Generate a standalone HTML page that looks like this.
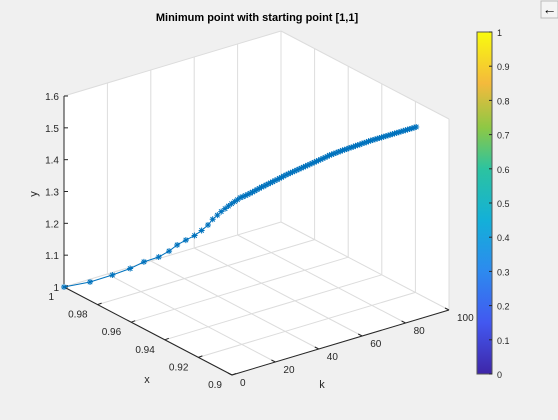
<!DOCTYPE html>
<html><head><meta charset="utf-8"><style>
body{margin:0;width:558px;height:420px;background:#f0f0f0;overflow:hidden;font-family:"Liberation Sans",sans-serif}
svg{position:absolute;left:0;top:0}
</style></head><body>
<svg id="chart" width="558" height="420">
<defs><linearGradient id="parula" x1="0" y1="1" x2="0" y2="0">
<stop offset="0" stop-color="#3e26a8"/><stop offset="0.15" stop-color="#4258f0"/><stop offset="0.3" stop-color="#2d8aef"/><stop offset="0.45" stop-color="#13b0d8"/><stop offset="0.6" stop-color="#2cc3a0"/><stop offset="0.72" stop-color="#8dc845"/><stop offset="0.85" stop-color="#f4ba3c"/><stop offset="1" stop-color="#f9fb0e"/>
</linearGradient></defs>
<g id="axes"></g>
<g id="series"></g>
<text x="257" y="21" text-anchor="middle" font-size="11" font-weight="bold" fill="#000">Minimum point with starting point [1,1]</text>
<g>
<rect x="477" y="32" width="15" height="342" fill="url(#parula)" stroke="#555" stroke-width="1"/>
<g id="cbticks"></g>
</g>
<g><rect x="541" y="1" width="17" height="17" fill="#f4f4f4" stroke="#bbb"/><text x="549.5" y="14" text-anchor="middle" font-size="14" fill="#000">←</text></g>
</svg>
<script>
const kVals=[];for(let i=0;i<=100;i++)kVals.push(i);
const xVals=[1,.9858,.9738,.9645,.9576,.9501,.9452,.9417,.9378,.9339,.9310,.9285,.927,.9255,.9245,.9235,.9228,.9222,.9217,.9213,.921,
.9207,.9205,.9203,.9202,.9201,.920,.920,.9199,.9199,.9198,.9198,.9198,.9197,.9197,.9197,.9196,.9196,.9196,.9196,.9195,
.9195,.9195,.9195,.9195,.9195,.9195,.9195,.9195,.9195,.9195,.9195,.9195,.9195,.9195,.9195,.9195,.9195,.9195,.9195,.9195,
.9195,.9195,.9195,.9195,.9195,.9195,.9195,.9195,.9195,.9195,.9195,.9195,.9195,.9195,.9195,.9195,.9195,.9195,.9195,.9195,
.9195,.9195,.9195,.9195,.9195,.9195,.9195,.9195,.9195,.9195,.9195,.9195,.9195,.9195,.9195,.9195,.9195,.9195,.9195,.9195];
const yVals=[1,1.053,1.106,1.150,1.188,1.222,1.252,1.279,1.303,1.326,1.348,1.370,1.390,1.405,1.417,1.427,1.435,1.442,1.448,1.453,1.458,
1.460,1.462,1.464,1.466,1.468,1.470,1.472,1.474,1.476,1.477,
1.479,1.480,1.482,1.483,1.485,1.486,1.488,1.489,1.491,1.493,
1.494,1.495,1.496,1.497,1.498,1.499,1.500,1.501,1.502,1.503,
1.504,1.505,1.506,1.507,1.508,1.509,1.510,1.511,1.512,1.514,
1.514,1.515,1.515,1.516,1.516,1.517,1.517,1.517,1.518,1.518,
1.518,1.519,1.519,1.519,1.520,1.520,1.520,1.521,1.521,1.521,
1.521,1.521,1.521,1.521,1.521,1.521,1.521,1.521,1.521,1.521,
1.521,1.521,1.521,1.521,1.521,1.521,1.521,1.521,1.521,1.521];
const kTicks=[0,20,40,60,80,100];
const xTicks=[0.9,0.92,0.94,0.96,0.98,1];
const xTickLabels=["0.9","0.92","0.94","0.96","0.98","1"];
const yTicks=[1,1.1,1.2,1.3,1.4,1.5,1.6];
const yTickLabels=["1","1.1","1.2","1.3","1.4","1.5","1.6"];
const cbTicks=[0,0.1,0.2,0.3,0.4,0.5,0.6,0.7,0.8,0.9,1];
const cbTickLabels=["0","0.1","0.2","0.3","0.4","0.5","0.6","0.7","0.8","0.9","1"];

const NS="http://www.w3.org/2000/svg";
function P(k,x,y){const a=k/100,b=(x-0.9)/0.1,c=(y-1)/0.6;return [232+217*a-168*b,375-65*a-88*b-191*c];}
function mk(tag,attrs,parent){const e=document.createElementNS(NS,tag);for(const n in attrs)e.setAttribute(n,attrs[n]);parent.appendChild(e);return e;}
const ax=document.getElementById('axes');
const pts=[P(0,1,1.6),P(100,1,1.6),P(100,0.9,1.6),P(100,0.9,1),P(0,0.9,1),P(0,1,1)];
const bg=mk('polygon',{points:pts.map(p=>p.join(',')).join(' '),fill:'#fff'},ax);


const g='#dcdcdc';
function line(p,q,col,w,par){return mk('line',{x1:p[0],y1:p[1],x2:q[0],y2:q[1],stroke:col,'stroke-width':w},par);}
kTicks.forEach(k=>{line(P(k,1,1),P(k,1,1.6),g,1,ax);line(P(k,1,1),P(k,0.9,1),g,1,ax);});
xTicks.forEach(x=>{line(P(100,x,1),P(100,x,1.6),g,1,ax);line(P(0,x,1),P(100,x,1),g,1,ax);});
line(P(0,1,1.6),P(100,1,1.6),g,1,ax);line(P(100,1,1.6),P(100,0.9,1.6),g,1,ax);
const yl=line(P(0,1,1),P(0,1,1.6),'#262626',1,ax);


const xl=line(P(0,1,1),P(0,0.9,1),'#262626',1,ax);


const kl=line(P(0,0.9,1),P(100,0.9,1),'#262626',1,ax);


function txt(s,x,y,anchor,par,name){const t=mk('text',{x:x,y:y,'text-anchor':anchor,'font-size':10,fill:'#262626'},par);t.textContent=s;return t;}
yTicks.forEach((y,i)=>{const p=P(0,1,y);line(p,[p[0]+4,p[1]],'#262626',1,ax);txt(yTickLabels[i],p[0]-5,p[1]+4,'end',ax,'y-tick-label');});
xTicks.forEach((x,i)=>{const p=P(0,x,1);line(p,[p[0]+4,p[1]-1.5],'#262626',1,ax);txt(xTickLabels[i],p[0]-10,p[1]+13,'end',ax,'x-tick-label');});
kTicks.forEach((k,i)=>{const p=P(k,0.9,1);line(p,[p[0]-4,p[1]-2],'#262626',1,ax);txt(String(k),p[0]+8,p[1]+11,'start',ax,'k-tick-label');});
txt('x',147,383,'middle',ax,'x-axis-title').setAttribute('font-size','11');
txt('k',322,388,'middle',ax,'k-axis-title').setAttribute('font-size','11');
const yt=txt('y',37,194,'middle',ax,'y-axis-title');yt.setAttribute('font-size','11');yt.setAttribute('transform','rotate(-90 37 194)');
const sg=document.getElementById('series');
const poly=mk('polyline',{points:kVals.map((k,i)=>P(k,xVals[i],yVals[i]).join(',')).join(' '),fill:'none',stroke:'#0072bd','stroke-width':1},sg);


kVals.forEach((k,i)=>{const p=P(k,xVals[i],yVals[i]);const m=mk('path',{d:`M${p[0]-3},${p[1]}h6M${p[0]},${p[1]-3}v6M${p[0]-2.2},${p[1]-2.2}l4.4,4.4M${p[0]-2.2},${p[1]+2.2}l4.4,-4.4`,stroke:'#0072bd','stroke-width':1},sg);

});
const cb=document.getElementById('cbticks');
cbTicks.forEach((v,i)=>{const y=374-v*342;line([489,y],[492,y],'#262626',1,cb);txt(cbTickLabels[i],497,y+4,'start',cb,'colorbar-tick-label').setAttribute('font-size','9');});
</script>
</body></html>
